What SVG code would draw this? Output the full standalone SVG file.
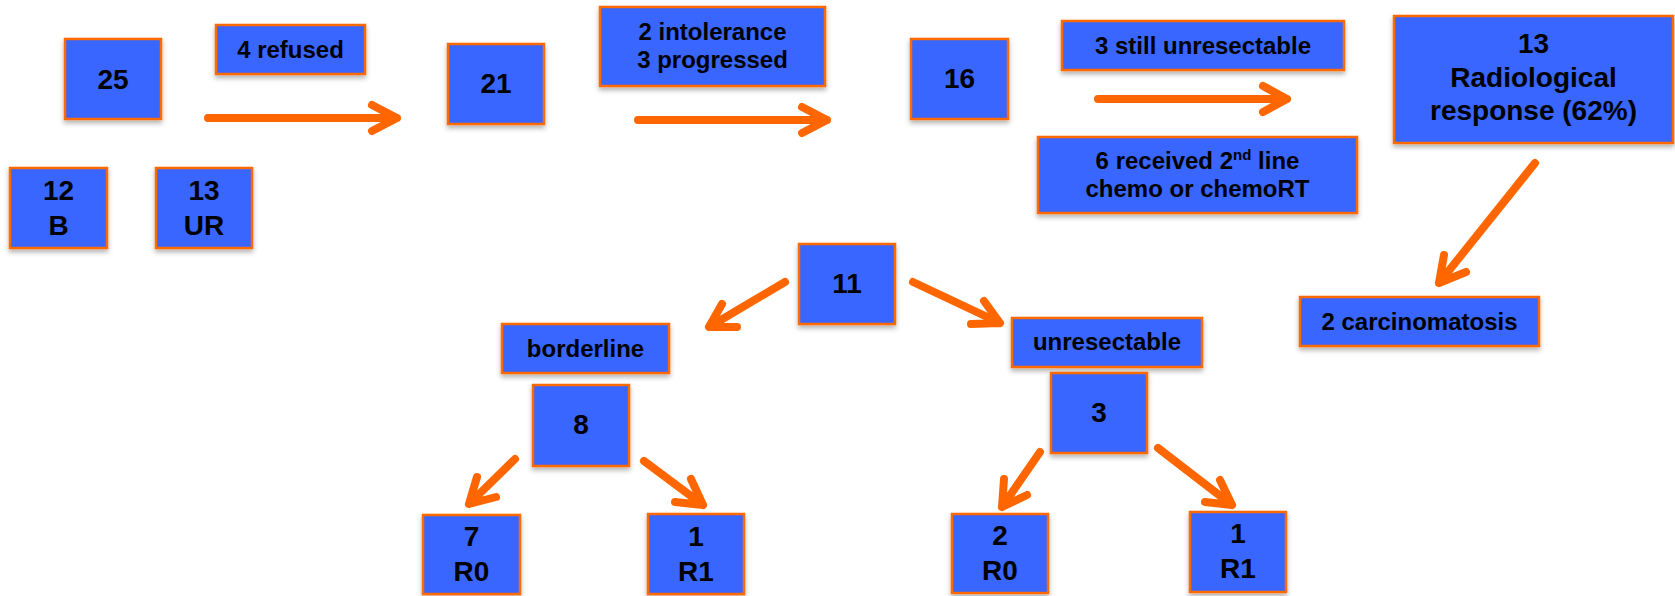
<svg xmlns="http://www.w3.org/2000/svg" width="1675" height="596" viewBox="0 0 1675 596">
<style>
.box{fill:#3766FF;stroke:#FF6A00;stroke-width:2.5;filter:url(#sh)}
.t{font-family:"Liberation Sans",Arial,sans-serif;font-weight:bold;fill:#000;text-anchor:middle}
.s24{font-size:24px}
.s28{font-size:28px}
.arr{fill:none;stroke:#FF6600;stroke-width:8;stroke-linecap:round;stroke-linejoin:round}
</style>
<defs>
<filter id="sh" x="-10%" y="-10%" width="130%" height="140%">
<feDropShadow dx="0" dy="3" stdDeviation="2.5" flood-color="#000" flood-opacity="0.3"/>
</filter>
</defs>
<rect width="1675" height="596" fill="#fff"/>
<g id="connectors">
<path class="arr" d="M208,118 L397,118 M372,105 L397,118 L372,131"/>
<path class="arr" d="M638,120 L827,120 M802,107 L827,120 L802,133"/>
<path class="arr" d="M1098,99 L1287,99 M1263,86 L1287,99 L1263,112"/>
<path class="arr" d="M1535,163 L1439,283 M1444,255 L1439,283 L1466,272"/>
<path class="arr" d="M785,282 L709,327 M722,304 L709,327 L737,327"/>
<path class="arr" d="M913,282 L1000,323 M984,301 L1000,323 L971,324"/>
<path class="arr" d="M515,459 L469,504 M477,477 L469,504 L496,497"/>
<path class="arr" d="M644,461 L703,505 M691,479 L703,505 L675,502"/>
<path class="arr" d="M1040,452 L1002,507 M1004,479 L1002,507 L1027,495"/>
<path class="arr" d="M1158,448 L1232,505 M1220,480 L1232,505 L1205,502"/>
</g>
<g id="n25"><rect class="box" x="65" y="39" width="96" height="80"/><text class="t s28" x="113" y="89">25</text></g>
<g id="nRefused"><rect class="box" x="216" y="25" width="149" height="49"/><text class="t s24" x="290.5" y="58">4 refused</text></g>
<g id="n12B"><rect class="box" x="10" y="168" width="97" height="80"/><text class="t s28" x="58.5" y="200">12</text><text class="t s28" x="58.5" y="235">B</text></g>
<g id="n13UR"><rect class="box" x="156" y="168" width="96" height="80"/><text class="t s28" x="204" y="200">13</text><text class="t s28" x="204" y="235">UR</text></g>
<g id="n21"><rect class="box" x="448" y="44" width="96" height="80"/><text class="t s28" x="496" y="93">21</text></g>
<g id="nIntol"><rect class="box" x="600" y="7" width="225" height="79"/><text class="t s24" x="712.5" y="40">2 intolerance</text><text class="t s24" x="712.5" y="68">3 progressed</text></g>
<g id="n16"><rect class="box" x="911" y="39" width="97" height="80"/><text class="t s28" x="959.5" y="88">16</text></g>
<g id="nStill"><rect class="box" x="1062" y="21" width="282" height="49"/><text class="t s24" x="1203" y="54">3 still unresectable</text></g>
<g id="n2nd"><rect class="box" x="1038" y="137" width="319" height="76"/><text class="t s24" x="1197.5" y="169">6 received 2<tspan font-size="15" dy="-9">nd</tspan><tspan dy="9"> line</tspan></text><text class="t s24" x="1197.5" y="197">chemo or chemoRT</text></g>
<g id="n13Rad"><rect class="box" x="1394" y="16" width="279" height="127"/><text class="t s28" x="1533.5" y="53">13</text><text class="t s28" x="1533.5" y="87">Radiological</text><text class="t s28" x="1533.5" y="120">response (62%)</text></g>
<g id="nCarc"><rect class="box" x="1300" y="297" width="239" height="49"/><text class="t s24" x="1419.5" y="330">2 carcinomatosis</text></g>
<g id="n11"><rect class="box" x="799" y="244" width="96" height="80"/><text class="t s28" x="847" y="293">11</text></g>
<g id="nBorder"><rect class="box" x="502" y="324" width="167" height="49"/><text class="t s24" x="585.5" y="357">borderline</text></g>
<g id="nUnres"><rect class="box" x="1012" y="318" width="190" height="49"/><text class="t s24" x="1107" y="350">unresectable</text></g>
<g id="n8"><rect class="box" x="533" y="385" width="96" height="81"/><text class="t s28" x="581" y="434">8</text></g>
<g id="n3"><rect class="box" x="1051" y="373" width="96" height="80"/><text class="t s28" x="1099" y="422">3</text></g>
<g id="n7R0"><rect class="box" x="423" y="515" width="97" height="79"/><text class="t s28" x="471.5" y="546">7</text><text class="t s28" x="471.5" y="581">R0</text></g>
<g id="n1R1a"><rect class="box" x="648" y="514" width="96" height="80"/><text class="t s28" x="696" y="546">1</text><text class="t s28" x="696" y="581">R1</text></g>
<g id="n2R0"><rect class="box" x="952" y="514" width="96" height="79"/><text class="t s28" x="1000" y="545">2</text><text class="t s28" x="1000" y="580">R0</text></g>
<g id="n1R1b"><rect class="box" x="1190" y="512" width="96" height="80"/><text class="t s28" x="1238" y="543">1</text><text class="t s28" x="1238" y="578">R1</text></g>
</svg>
